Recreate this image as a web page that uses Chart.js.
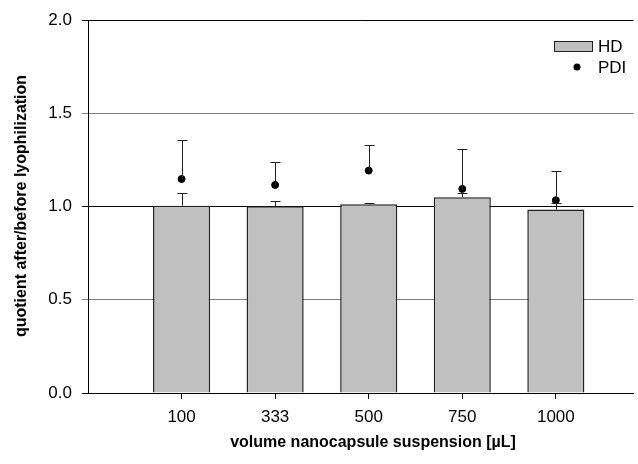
<!DOCTYPE html>
<html>
<head>
<meta charset="utf-8">
<script src="https://cdn.jsdelivr.net/npm/chart.js@4"></script>
<style>
  html, body { margin: 0; padding: 0; background: #fff; }
  #wrap { width: 638px; height: 464px; }
</style>
</head>
<body>
<div id="wrap"><canvas id="myChart" width="638" height="464"></canvas></div>
<script>
// data
const volumes = ['100', '333', '500', '750', '1000']
const hdValues = [1.005, 1.002, 1.012, 1.050, 0.984]
const hdErrors = [0.068, 0.026, 0.006, 0.021, 0.036]
const pdiValues = [1.148, 1.116, 1.193, 1.095, 1.034]
const pdiErrors = [0.207, 0.125, 0.140, 0.214, 0.155]
const yTicks = [0, 0.5, 1.0, 1.5, 2.0]

const FONT = 'Liberation Sans, Arial, sans-serif'

// positions on the linear x axis: 1..5
const xPos = volumes.map((v, i) => i + 1)

const model = {
  data: {
    datasets: [{
      type: 'bar',
      label: 'HD',
      data: xPos.map((x, i) => ({ x: x, y: hdValues[i] })),
      errors: hdErrors,
      backgroundColor: '#c0c0c0',
      borderColor: '#202020',
      borderWidth: 1.5,
      borderSkipped: 'start',
      barPercentage: 0.61,
      categoryPercentage: 1.0,
      order: 2
    }, {
      type: 'scatter',
      label: 'PDI',
      data: xPos.map((x, i) => ({ x: x, y: pdiValues[i] })),
      errors: pdiErrors,
      backgroundColor: '#000',
      borderColor: '#000',
      pointRadius: 3.5,
      pointHoverRadius: 3.5,
      showLine: false,
      order: 1
    }]
  }
}

// upward error bars for both series
const errorBars = {
  id: 'errorBars',
  afterDatasetsDraw(chart) {
    const ctx = chart.ctx
    const ys = chart.scales.y
    const xs = chart.scales.x
    ctx.save()
    ctx.strokeStyle = '#222'
    ctx.lineWidth = 1
    chart.data.datasets.forEach((ds, di) => {
      ds.data.forEach((p, i) => {
        const x = Math.round(xs.getPixelForValue(p.x)) + 0.5
        const y0 = ys.getPixelForValue(p.y)
        const y1 = Math.round(ys.getPixelForValue(p.y + ds.errors[i])) + 0.5
        ctx.beginPath()
        ctx.moveTo(x, y0)
        ctx.lineTo(x, y1)
        ctx.moveTo(x - 5, y1)
        ctx.lineTo(x + 5, y1)
        ctx.stroke()
      })
    })
    ctx.restore()
  }
}

// legend in the top right corner + axis titles
const extras = {
  id: 'extras',
  afterDraw(chart) {
    const ctx = chart.ctx
    const ds = chart.data.datasets
    ctx.save()
    // legend
    ctx.fillStyle = '#c0c0c0'
    ctx.fillRect(554, 41, 38, 11)
    ctx.strokeStyle = '#202020'
    ctx.lineWidth = 1
    ctx.strokeRect(554.5, 41.5, 38, 10)
    ctx.fillStyle = '#000'
    ctx.beginPath()
    ctx.arc(577, 67, 3.5, 0, Math.PI * 2)
    ctx.fill()
    ctx.font = '17px ' + FONT
    ctx.textBaseline = 'middle'
    ctx.textAlign = 'left'
    ctx.fillText(ds[0].label, 598, 47)
    ctx.fillText(ds[1].label, 598, 68)
    // axis titles
    ctx.font = 'bold 16px ' + FONT
    ctx.textAlign = 'center'
    ctx.fillText('volume nanocapsule suspension [µL]', 373, 443)
    ctx.translate(22, 206)
    ctx.rotate(-Math.PI / 2)
    ctx.fillText('quotient after/before lyophilization', 0, 0)
    ctx.restore()
  }
}

const myChart = new Chart(document.querySelector('#myChart').getContext('2d'), {
  data: model.data,
  plugins: [errorBars, extras],
  options: {
    responsive: false,
    animation: false,
    layout: { padding: { top: 19, right: 0, left: 0, bottom: 0 } },
    plugins: {
      legend: { display: false },
      tooltip: { enabled: false }
    },
    scales: {
      x: {
        type: 'linear',
        min: 0,
        max: 5.83,
        offset: false,
        afterBuildTicks(scale) {
          scale.ticks = xPos.map(v => ({ value: v }))
        },
        afterFit(scale) { scale.height = 71 },
        ticks: {
          callback: (v) => volumes[v - 1],
          color: '#000',
          font: { family: FONT, size: 17 },
          padding: 8,
          maxRotation: 0
        },
        grid: {
          offset: false,
          drawOnChartArea: false,
          drawTicks: true,
          tickLength: 6,
          color: '#000'
        },
        border: { color: '#000', width: 1 }
      },
      y: {
        min: 0,
        max: 2,
        afterBuildTicks(scale) {
          scale.ticks = yTicks.map(v => ({ value: v }))
        },
        afterFit(scale) { scale.width = 88 },
        ticks: {
          callback: (v) => v.toFixed(1),
          color: '#000',
          font: { family: FONT, size: 17 },
          padding: 10
        },
        grid: {
          color: (c) => (c.tick && (c.tick.value === 0.5 || c.tick.value === 1.5)) ? '#808080' : '#000',
          lineWidth: 1,
          tickLength: 6
        },
        border: { color: '#000', width: 1 }
      }
    }
  }
})
</script>
</body>
</html>
